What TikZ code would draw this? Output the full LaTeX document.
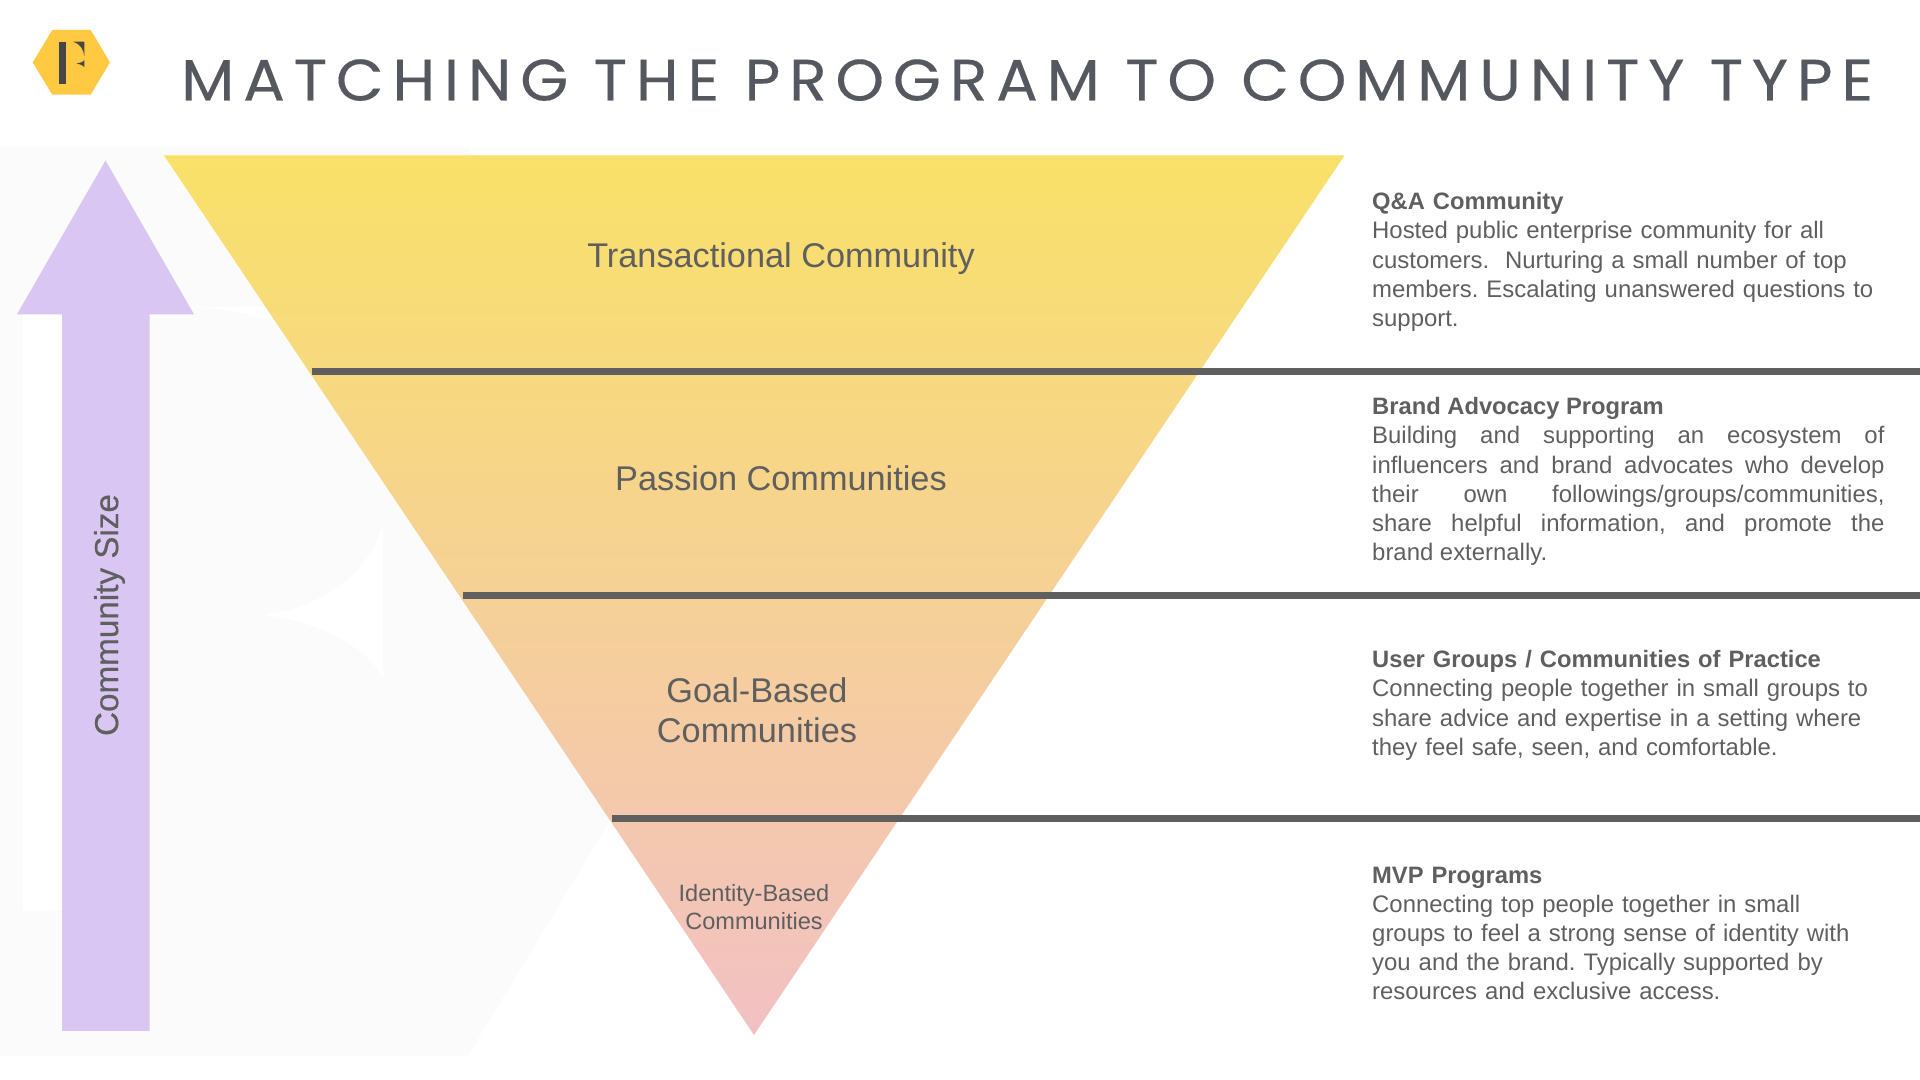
\documentclass[tikz,border=0pt]{standalone}
\usepackage{fontspec}
\setmainfont{Liberation Sans}
\newfontfamily\titlefont[LetterSpace=15,FakeStretch=1.06,FakeBold=0.25]{Poppins}
\newfontfamily\sizefont[FakeBold=0.35]{Liberation Sans}
\definecolor{titlegray}{HTML}{55585F}
\definecolor{textgray}{HTML}{5F5F5F}
\definecolor{markpale}{HTML}{FBFBFB}
\definecolor{arrowlilac}{HTML}{DAC6F2}
\definecolor{hexgold}{HTML}{FFC942}
\definecolor{fdark}{HTML}{464646}
\definecolor{funneltop}{HTML}{F9E169}
\definecolor{funnelbottom}{HTML}{F2C0C4}
\frenchspacing

\begin{document}
\begin{tikzpicture}[x=0.01cm,y=-0.01cm]
	\tikzset{
		levellabel/.style = {text = textgray, align = center, inner sep = 0pt, font = \fontsize{9.75}{11.4}\selectfont},
		smalllabel/.style = {text = textgray, align = center, inner sep = 0pt, font = \fontsize{6.7}{8.1}\selectfont},
		blurb/.style = {text = textgray, anchor = north west, inner sep = 0pt, text width = 5.12cm, font = \fontsize{6.8}{8.27}\selectfont},
		divider/.style = {draw = textgray, line width = 1.85pt}
	}
	\newcommand{\blurbhead}[1]{{\fontsize{6.75}{8.27}\selectfont\textbf{#1}}}
	\useasboundingbox (0,0) rectangle (1920,1080);
	% pale watermark behind the funnel
	\fill[markpale] (0,147) -- (468,147) -- (743.5,601) -- (468,1055.7) -- (0,1055.7) -- cycle;
	\fill[white] (22.7,314) rectangle (100,910.7);
	\fill[white] (383,523) .. controls (370,575) and (320,608) .. (263,615) .. controls (310,620) and (360,640) .. (383,677) -- cycle;
	\fill[white] (190,307) -- (290,307) -- (290,326) .. controls (255,314) and (225,309) .. (190,307) -- cycle;
	% logo
	\fill[hexgold] (32.7,62.4) -- (52.3,30) -- (90.7,30) -- (110,62.4) -- (90.7,94.7) -- (52.3,94.7) -- cycle;
	\fill[fdark] (59.3,41.7) rectangle (66,84.3);
	\fill[fdark] (73.3,41.7) -- (84.3,41.7) -- (84.3,56) .. controls (83.5,49) and (80,44) .. (73.3,41.7) -- cycle;
	\fill[fdark] (84.3,60) .. controls (83.5,62) and (80,63) .. (76.7,63.5) .. controls (80,64) and (83.5,65.5) .. (84.3,67.3) -- cycle;
	\node[anchor = base west, inner sep = 0pt, text = titlegray, font = \titlefont\fontsize{16.6}{20}\selectfont] (title) at (180.5,100.5){MATCHING THE PROGRAM TO COMMUNITY TYPE};
	% size arrow
	\fill[arrowlilac] (105.5,160.5) -- (194,314.3) -- (149.5,314.3) -- (149.5,1031) -- (62,1031) -- (62,314.3) -- (17,314.3) -- cycle;
	\node[levellabel, rotate = 90, font = \sizefont\fontsize{9.45}{11}\selectfont] (size) at (109.5,615){Community Size};
	% funnel
	\coordinate (TL) at (164,155.5);
	\coordinate (TR) at (1344.5,155.5);
	\coordinate (BM) at (754,1035);
	\shade[top color = funneltop, bottom color = funnelbottom] (TL) -- (TR) -- (BM) -- cycle;
	\coordinate (L1) at (312,371.5);
	\coordinate (L2) at (463,595.5);
	\coordinate (L3) at (612,818.7);
	\coordinate (R1) at (1920,371.5);
	\coordinate (R2) at (1920,595.5);
	\coordinate (R3) at (1920,818.7);
	\draw[divider] (L1) -- (R1);
	\draw[divider] (L2) -- (R2);
	\draw[divider] (L3) -- (R3);
	\node[levellabel] (transactional) at (781,258.5){Transactional Community};
	\node[levellabel] (passion) at (781,478){Passion Communities};
	\node[levellabel] (goal) at (757,710){Goal-Based\\Communities};
	\node[smalllabel] (identity) at (754,907){Identity-Based\\Communities};
	% right hand texts
	\node[blurb, align = left] (qa) at (1371.5,192){\blurbhead{Q\&A Community}\\Hosted public enterprise community for all\\customers.\ \ Nurturing a small number of top\\members. Escalating unanswered questions to\\support.};
	\node[blurb, align = justify] (brand) at (1371.5,397){\blurbhead{Brand Advocacy Program}\newline Building and supporting an ecosystem of\linebreak influencers and brand advocates who develop\linebreak their own followings/groups/communities,\linebreak share helpful information, and promote the\linebreak brand externally.};
	\node[blurb, align = left] (groups) at (1371.5,650){\blurbhead{User Groups / Communities of Practice}\\Connecting people together in small groups to\\share advice and expertise in a setting where\\they feel safe, seen, and comfortable.};
	\node[blurb, align = left] (mvp) at (1371.5,866){\blurbhead{MVP Programs}\\Connecting top people together in small\\groups to feel a strong sense of identity with\\you and the brand. Typically supported by\\resources and exclusive access.};
\end{tikzpicture}
\end{document}
